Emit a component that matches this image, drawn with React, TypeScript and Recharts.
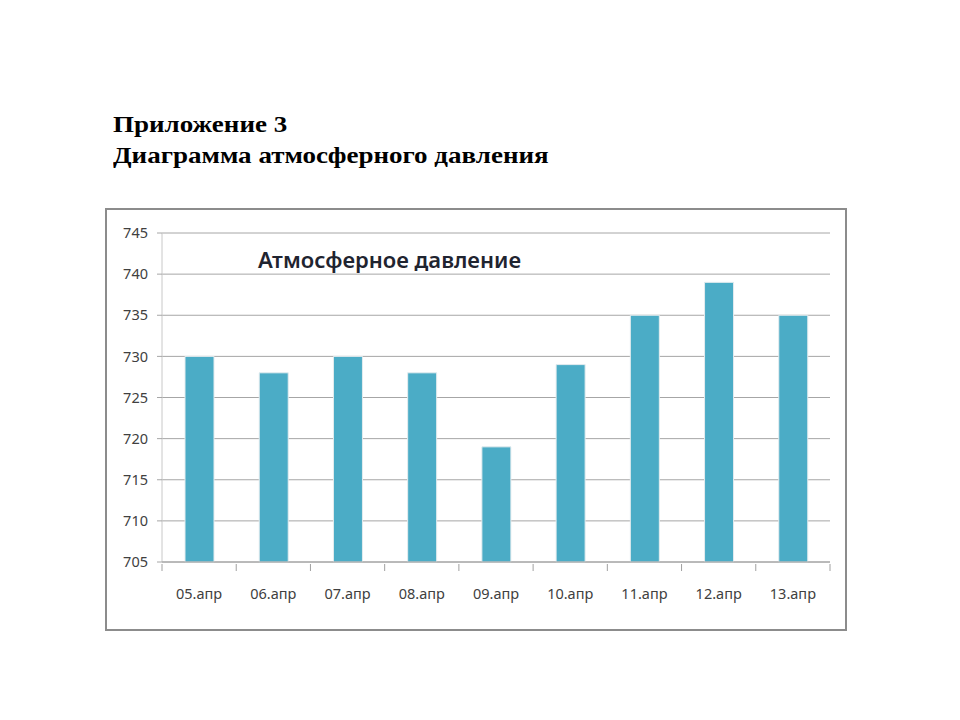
import { BarChart, Bar, XAxis, YAxis, CartesianGrid } from 'recharts';

const days = ['05.апр', '06.апр', '07.апр', '08.апр', '09.апр', '10.апр', '11.апр', '12.апр', '13.апр'];
const pressure = [730, 728, 730, 728, 719, 729, 735, 739, 735];
const yTicks = [705, 710, 715, 720, 725, 730, 735, 740, 745];

const data = days.map((day, i) => ({ day, value: pressure[i] }));

const CHART_W = 742;
const CHART_H = 423;
const MARGIN = { top: 25, right: 17, left: 0, bottom: 0 };
const Y_WIDTH = 57;
const X_HEIGHT = 69;
const band = (CHART_W - MARGIN.right - Y_WIDTH) / days.length;

const tickFont = { fontFamily: 'Noto Sans', fontSize: 14.5, fill: '#404040' };

function DayTick(props: any) {
  const { x, y, payload, index } = props;
  const left = x - band / 2;
  return (
    <g>
      <line x1={left} x2={left} y1={y - 6} y2={y + 1} stroke="#a0a0a0" />
      {index === days.length - 1 && (
        <line x1={left + band} x2={left + band} y1={y - 6} y2={y + 1} stroke="#a0a0a0" />
      )}
      <text x={x} y={y + 29} textAnchor="middle" {...tickFont}>
        {payload.value}
      </text>
    </g>
  );
}

export default function App() {
  return (
    <div style={{ position: 'absolute', left: 0, top: 0, width: 960, height: 720, background: '#fff' }}>
      <div
        style={{
          position: 'absolute',
          left: 113,
          top: 109,
          fontFamily: '"Liberation Serif", "Times New Roman", serif',
          fontWeight: 'bold',
          fontSize: 23,
          lineHeight: '31px',
          color: '#000',
          transform: 'scaleX(1.175)',
          transformOrigin: 'left top',
          whiteSpace: 'nowrap',
        }}
      >
        <div>Приложение 3</div>
        <div>Диаграмма атмосферного давления</div>
      </div>

      <div style={{ position: 'absolute', left: 105, top: 208 }}>
        <BarChart width={CHART_W} height={CHART_H} data={data} margin={MARGIN}>
          <CartesianGrid vertical={false} stroke="#a6a6a6" />
          <YAxis
            domain={[705, 745]}
            ticks={yTicks}
            interval={0}
            width={Y_WIDTH}
            axisLine={{ stroke: '#c8c8c8' }}
            tickLine={{ stroke: '#a6a6a6' }}
            tickSize={5}
            tickMargin={9}
            tick={tickFont}
          />
          <XAxis
            dataKey="day"
            height={X_HEIGHT}
            axisLine={{ stroke: '#a0a0a0' }}
            tickLine={false}
            interval={0}
            tick={<DayTick />}
          />
          <Bar
            dataKey="value"
            fill="#4bacc6"
            stroke="#e4ecef"
            strokeWidth={1}
            barSize={29}
            isAnimationActive={false}
          />
          <text
            x={153}
            y={60}
            style={{ fontFamily: 'Noto Sans', fontSize: 22, fontWeight: 600, fill: '#1f2430' }}
          >
            Атмосферное давление
          </text>
        </BarChart>
        <div
          style={{
            position: 'absolute',
            left: 0,
            top: 0,
            width: CHART_W,
            height: CHART_H,
            boxSizing: 'border-box',
            border: '2px solid #8c8c8c',
            pointerEvents: 'none',
          }}
        />
      </div>
    </div>
  );
}
